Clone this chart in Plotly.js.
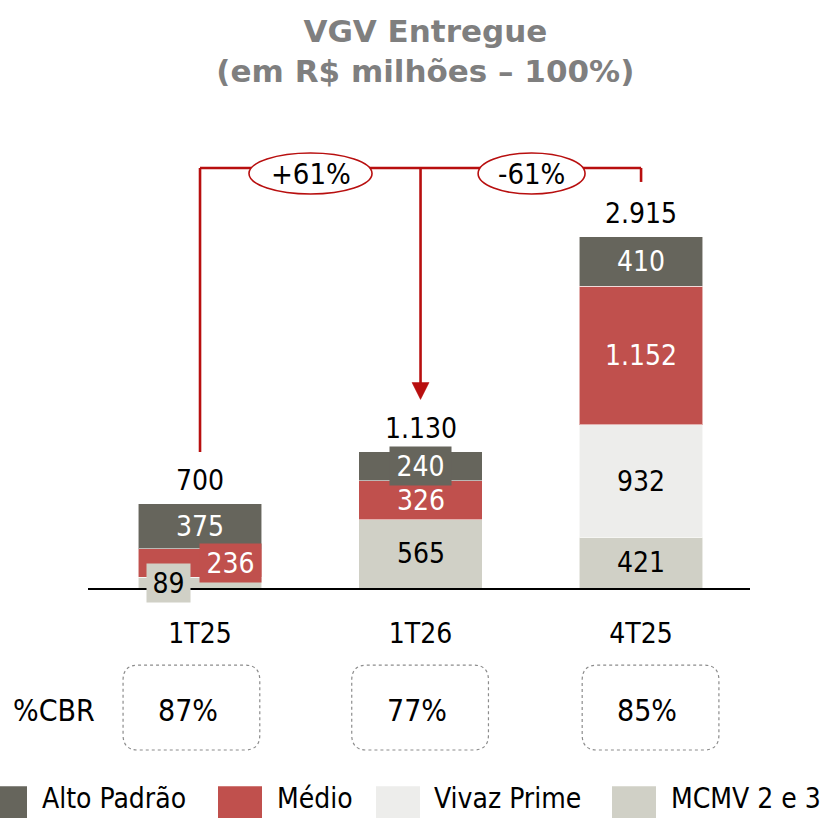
<!DOCTYPE html>
<html>
<head>
<meta charset="utf-8">
<script src="https://cdn.plot.ly/plotly-3.0.1.min.js"></script>
<style>html,body{margin:0;padding:0;background:#fff;}#chart{width:834px;height:818px;}</style>
</head>
<body>
<div id="chart"></div>
<script>
// ---- data ----
const categories = ['1T25', '1T26', '4T25'];
const mcmv = [89, 565, 421];
const vivazPrime = [null, null, 932];
const medio = [236, 326, 1152];
const altoPadrao = [375, 240, 410];
const totalLabels = ['700', '1.130', '2.915'];
const cbrValues = ['87%', '77%', '85%'];
const variationLabels = ['+61%', '-61%'];
const seriesNames = ['MCMV 2 e 3', 'Vivaz Prime', 'Médio', 'Alto Padrão'];
const legendOrder = ['Alto Padrão', 'Médio', 'Vivaz Prime', 'MCMV 2 e 3'];

// ---- styles ----
const FONT = '"DejaVu Sans Condensed", "DejaVu Sans", sans-serif';
const TITLE_FONT = '"DejaVu Sans", sans-serif';
const colors = {
  'MCMV 2 e 3': '#D0D0C6',
  'Vivaz Prime': '#EDEDEB',
  'Médio': '#C0504D',
  'Alto Padrão': '#66655C'
};
const textColors = {
  'MCMV 2 e 3': '#000000',
  'Vivaz Prime': '#000000',
  'Médio': '#FFFFFF',
  'Alto Padrão': '#FFFFFF'
};
const RED = '#B80F0F';
const seriesValues = [mcmv, vivazPrime, medio, altoPadrao];

function fmt(v) {
  return String(Math.round(v)).replace(/\B(?=(\d{3})+(?!\d))/g, '.');
}

const traces = seriesNames.map((name, s) => ({
  type: 'bar',
  name: name,
  x: categories,
  y: seriesValues[s],
  width: 0.56,
  marker: { color: colors[name], line: { color: 'rgba(255,255,255,0.55)', width: 1 } },
  hoverinfo: 'skip',
  showlegend: false
}));

const annotations = [];
const shapes = [];

// special label placements (offset boxes as in the original)
const special = {
  'MCMV 2 e 3|0': { dx: -0.145, w: 43, h: 38 },
  'Médio|0': { dx: 0.14, w: 61, h: 38 },
  'Alto Padrão|1': { dx: 0, w: 61, h: 38 }
};

const base = categories.map(() => 0);
seriesNames.forEach((name, s) => {
  seriesValues[s].forEach((v, i) => {
    if (v == null) return;
    const sp = special[name + '|' + i];
    const ann = {
      x: i + (sp ? sp.dx : 0), y: base[i] + v / 2, xref: 'x', yref: 'y',
      text: fmt(v), showarrow: false,
      font: { family: FONT, size: 28, color: textColors[name] },
      xanchor: 'center', yanchor: 'middle'
    };
    if (sp) {
      ann.bgcolor = colors[name];
      ann.width = sp.w; ann.height = sp.h; ann.borderpad = 0;
    }
    annotations.push(ann);
    base[i] += v;
  });
});

// totals
base.forEach((t, i) => {
  annotations.push({
    x: i, y: t, xref: 'x', yref: 'y', text: totalLabels[i], showarrow: false,
    xanchor: 'center', yanchor: 'bottom', yshift: 5,
    font: { family: FONT, size: 28, color: '#000000' }
  });
});

// bracket with growth markers
const lineY = 3486;
const ln = (x0, y0, x1, y1) => ({ type: 'line', xref: 'x', yref: 'y', x0, y0, x1, y1,
  line: { color: RED, width: 2.6 } });
shapes.push(ln(0, 1129, 0, lineY));
shapes.push(ln(0, lineY, 2, lineY));
shapes.push(ln(1, lineY, 1, 1690));
shapes.push(ln(2, lineY, 2, 3370));
shapes.push({ type: 'path', xref: 'x', yref: 'y',
  path: 'M 0.9614 1705 L 1.0386 1705 L 1 1565 Z',
  fillcolor: RED, line: { color: RED, width: 0.5 } });
const ellipses = [[0.222, 0.78], [1.261, 1.746]];
ellipses.forEach((e, k) => {
  shapes.push({ type: 'circle', xref: 'x', yref: 'y', x0: e[0], x1: e[1], y0: 3270, y1: 3610,
    fillcolor: '#FFFFFF', line: { color: RED, width: 1.6 } });
  annotations.push({ x: (e[0] + e[1]) / 2, y: 3440, xref: 'x', yref: 'y', text: variationLabels[k],
    showarrow: false, xanchor: 'center', yanchor: 'middle',
    font: { family: FONT, size: 29, color: '#000000' } });
});

// %CBR row
const boxOffsets = [-0.039, -0.002, 0.043];
const bx = 0.31, rx = 0.068, by0 = -0.332, by1 = -0.158, ry = 0.031;
cbrValues.forEach((c, i) => {
  const cx = i + boxOffsets[i];
  const x0 = cx - bx, x1 = cx + bx;
  const p = `M ${x0 + rx} ${by1} L ${x1 - rx} ${by1} Q ${x1} ${by1} ${x1} ${by1 - ry} ` +
    `L ${x1} ${by0 + ry} Q ${x1} ${by0} ${x1 - rx} ${by0} L ${x0 + rx} ${by0} ` +
    `Q ${x0} ${by0} ${x0} ${by0 + ry} L ${x0} ${by1 - ry} Q ${x0} ${by1} ${x0 + rx} ${by1} Z`;
  shapes.push({ type: 'path', xref: 'x', yref: 'paper', path: p,
    line: { color: '#8C8C8C', width: 1.2, dash: 'dot' } });
  annotations.push({ x: cx - 0.015, y: -0.25, xref: 'x', yref: 'paper', text: c, showarrow: false,
    xanchor: 'center', yanchor: 'middle',
    font: { family: FONT, size: 30, color: '#000000' } });
});
annotations.push({ x: -0.051, y: -0.25, xref: 'paper', yref: 'paper', text: '%CBR', showarrow: false,
  xanchor: 'center', yanchor: 'middle',
  font: { family: FONT, size: 30, color: '#000000' } });

// custom legend (large swatches as in the original)
const PX = (px) => (px - 88) / 662;
const legendSwatchX = [-17, 218, 376, 612];
const legendTextX = [40, 275, 432, 669];
legendOrder.forEach((name, k) => {
  shapes.push({ type: 'rect', xref: 'paper', yref: 'paper',
    x0: PX(legendSwatchX[k]), x1: PX(legendSwatchX[k] + 44), y0: -0.406, y1: -0.52,
    fillcolor: colors[name], line: { width: 0 } });
  annotations.push({ x: PX(legendTextX[k]), y: -0.432, xref: 'paper', yref: 'paper', text: name,
    showarrow: false, xanchor: 'left', yanchor: 'middle',
    font: { family: FONT, size: 28, color: '#000000' } });
});

const layout = {
  width: 834, height: 818,
  margin: { l: 88, r: 84, t: 100, b: 230 },
  paper_bgcolor: '#FFFFFF', plot_bgcolor: '#FFFFFF',
  barmode: 'stack',
  font: { family: FONT, size: 28, color: '#000000' },
  title: {
    text: 'VGV Entregue<br>(em R$ milhões – 100%)',
    x: 0.51, xanchor: 'center', y: 0.949, yanchor: 'top', yref: 'container',
    font: { family: TITLE_FONT, size: 31, color: '#7F7F7F', weight: 'bold' }
  },
  xaxis: {
    type: 'category', range: [-0.508, 2.494],
    showline: true, linecolor: '#000000', linewidth: 1.5,
    showgrid: false, zeroline: false, ticks: '',
    tickfont: { family: FONT, size: 28, color: '#000000' },
    ticklabelstandoff: 20, fixedrange: true
  },
  yaxis: {
    range: [0, 4050], visible: false, showgrid: false, zeroline: false, fixedrange: true
  },
  showlegend: false,
  shapes: shapes,
  annotations: annotations
};

Plotly.newPlot('chart', traces, layout, { displayModeBar: false, staticPlot: true });
</script>
</body>
</html>
